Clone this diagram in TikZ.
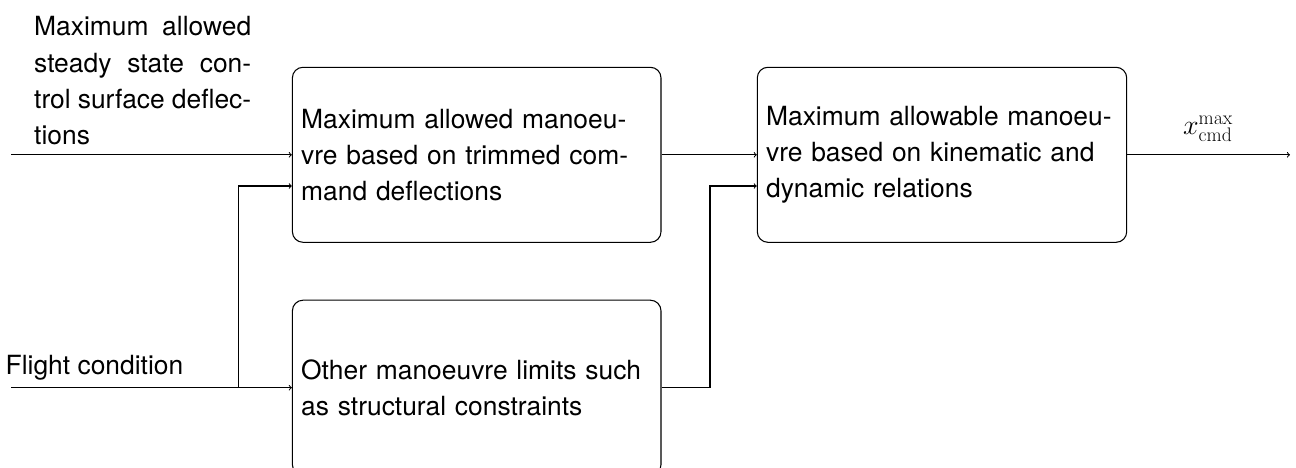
\RequirePackage{fix-cm}
\documentclass[tikz,border=0pt]{standalone}
\usepackage[no-math]{fontspec}
\setmainfont{TeX Gyre Heros}
\usetikzlibrary{calc}
\begin{document}
\begin{tikzpicture}[x=1pt,y=-1pt,
  every node/.style={font=\fontsize{26.4}{35.8}\selectfont},
  blk/.style={draw,rounded corners=10.6pt,line width=1.06pt,inner xsep=8.8pt,
    align=left,minimum height=175pt},
  conn/.style={line width=1.06pt},
  lbl/.style={inner sep=0pt,align=left}]
\useasboundingbox (0,0) rectangle (1296,468);
\node[blk,text width=351pt] (b1) at (476.7,154.8)
  {Maximum allowed manoeu-\\vre based on trimmed com-\\mand deflections};
\node[blk,text width=351pt] (b2) at (476.7,387.7)
  {Other manoeuvre limits such\\as structural constraints};
\node[blk,text width=351.8pt] (b3) at (942,154.8)
  {Maximum allowable manoeu-\\vre based on kinematic and\\dynamic relations};
\node[inner sep=0pt,align=justify,anchor=base west,text width=217pt,
  font=\fontsize{26.4}{36.3}\selectfont] (l1) at (34,36)
  {Maximum allowed\linebreak steady state con-\linebreak trol surface deflec-\linebreak tions};
\node[lbl,anchor=base west] (l2) at (5.5,374) {Flight condition};
\node[lbl,anchor=base,font=\fontsize{28}{34}\selectfont] (l3) at (1208,135) {$x^{\mathrm{max}}_{\mathrm{cmd}}$};
\coordinate (in1) at (11,154.8);
\coordinate (in2) at (11,387.7);
\coordinate (j1) at (238.3,387.7);
\coordinate (j2) at (710,186);
\coordinate (out) at (1290,154.8);
\draw[conn,->] (in1) -- (b1.west);
\draw[conn] (in2) -- (j1);
\draw[conn,->] (j1) |- ([yshift=-31.2pt]b1.west);
\draw[conn,->] (j1) -- (b2.west);
\draw[conn,->] (b1.east) -- (b3.west);
\draw[conn,->] (b2.east) -| (j2) -- ([yshift=-31.2pt]b3.west);
\draw[conn,->] (b3.east) -- (out);
\end{tikzpicture}
\end{document}
